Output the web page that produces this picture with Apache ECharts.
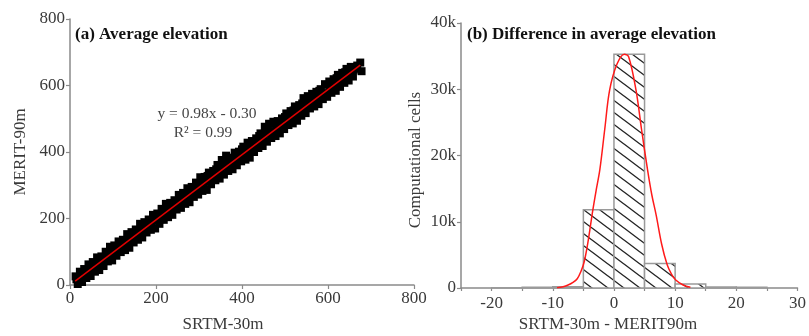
<!DOCTYPE html>
<html>
<head>
<meta charset="utf-8">
<script src="https://cdn.jsdelivr.net/npm/echarts@6/dist/echarts.min.js"></script>
<style>
html,body{margin:0;padding:0;background:#fff;}
#chart{width:809px;height:336px;}
</style>
</head>
<body>
<div id="chart"></div>
<script>
// ---------- Panel (a): SRTM-30m vs MERIT-90m ----------
const scatterPoints = [
[13,26],[18,3],[15,17],[23,40],[28,9],[25,20],[33,48],[38,21],[35,40],[43,62],[48,27],[45,42],
[53,69],[58,40],[55,55],[63,83],[68,45],[65,68],[73,86],[78,57],[75,67],[83,100],[88,71],[85,85],
[93,115],[98,74],[95,90],[103,119],[108,88],[105,110],[113,131],[118,99],[115,112],[123,136],[128,105],[125,117],
[133,153],[138,112],[135,136],[143,159],[148,128],[145,141],[153,167],[158,136],[155,158],[163,184],[168,143],[165,157],
[173,189],[178,158],[175,173],[183,197],[188,166],[185,174],[193,211],[198,170],[195,194],[203,215],[208,184],[205,206],
[213,229],[218,196],[215,208],[223,244],[228,204],[225,220],[233,247],[238,211],[235,224],[243,255],[248,227],[245,244],
[253,271],[258,232],[255,251],[263,277],[268,244],[265,256],[273,291],[278,249],[275,275],[283,295],[288,265],[285,274],
[293,308],[298,272],[295,291],[303,324],[308,283],[305,298],[313,325],[318,286],[315,313],[323,338],[328,303],[325,314],
[333,343],[338,315],[335,331],[343,361],[348,320],[345,336],[353,376],[358,332],[355,356],[363,389],[368,343],[365,357],
[373,383],[378,348],[375,364],[383,398],[388,360],[385,382],[393,401],[398,372],[395,381],[403,416],[408,377],[405,399],
[413,428],[418,383],[415,402],[423,433],[428,400],[425,422],[433,441],[438,412],[435,427],[443,456],[448,418],[445,434],
[453,476],[458,431],[455,455],[463,485],[468,442],[465,462],[473,491],[478,448],[475,462],[483,493],[488,456],[485,479],
[493,501],[498,469],[495,480],[503,516],[508,481],[505,497],[513,523],[518,486],[515,504],[523,537],[528,494],[525,520],
[533,541],[538,509],[535,520],[543,562],[548,517],[545,537],[553,568],[558,531],[555,543],[563,575],[568,537],[565,558],
[573,581],[578,544],[575,560],[583,589],[588,559],[585,575],[593,604],[598,566],[595,577],[603,612],[608,578],[605,597],
[613,619],[618,584],[615,602],[623,632],[628,596],[625,610],[633,638],[638,608],[635,627],[643,650],[648,615],[645,629],
[653,656],[658,627],[655,643],[663,652],[668,660],[675,669],[678,643],[650,645],
[20,14],[30,31],[40,30],[50,58],[60,52],[70,64],[80,82],[90,80],[100,104],[110,100],[120,126],[130,118],
[140,146],[150,139],[160,165],[170,160],[180,186],[190,178],[200,205],[210,198],[220,226],[230,219],[240,246],
[250,240],[260,266],[270,258],[280,286],[290,280],[300,306],[310,297],[320,328],[330,320],[340,348],[350,339],
[360,371],[370,360],[380,378],[390,376],[400,408],[410,400],[420,420],[430,418],[440,448],[450,440],[460,470],
[470,458],[480,482],[490,475],[500,505],[510,496],[520,525],[530,514],[540,546],[550,540],[560,562],[570,553],
[580,584],[590,576],[600,602],[610,594],[620,622],[630,615],[640,640],[650,632],[660,648]
];
const trendLine = [[12, 11.5], [675, 661.2]];
const xTicksA = [0, 200, 400, 600, 800];
const yTicksA = [0, 200, 400, 600, 800];

// ---------- Panel (b): histogram of differences ----------
const binStart = [-20, -15, -10, -5, 0, 5, 10, 15, 20];
const binEnd   = [-15, -10, -5, 0, 5, 10, 15, 20, 25];
const binCount = [50, 100, 200, 11800, 35300, 3700, 600, 150, 100];
const curveX = [-9.3, -8.3, -7.5, -6.7, -6, -5.4, -4.85, -4.2, -3.5, -2.9, -2.3, -1.5, -0.7, 0.5, 1.7, 2.4, 3.6, 4.5, 5.5, 6.2, 6.9, 7.8, 8.7, 9.4, 10.1, 11.3, 12.5];
const curveY = [50, 200, 450, 850, 1400, 2500, 4000, 7200, 11500, 14800, 17900, 24000, 29900, 33800, 35300, 34900, 29900, 24000, 17800, 14000, 11000, 6600, 3500, 2100, 1200, 450, 100];

const FONT = '"Liberation Serif","Times New Roman",serif';
const AX = '#8a8a8a';
const TXT = '#3a3a3a';

// hatch pattern
function makeHatch() {
  const c = document.createElement('canvas');
  c.width = 16; c.height = 12;
  const g = c.getContext('2d');
  g.fillStyle = '#fff'; g.fillRect(0, 0, 16, 12);
  g.strokeStyle = '#222'; g.lineWidth = 1.3;
  g.beginPath();
  g.moveTo(-16, -12); g.lineTo(32, 24);
  g.moveTo(-16, 0); g.lineTo(16, 24);
  g.moveTo(0, -12); g.lineTo(32, 12);
  g.stroke();
  return c;
}
const hatch = makeHatch();

const histData = binStart.map((s, i) => [s, binEnd[i], binCount[i]]);
const curveData = curveX.map((x, i) => [x, curveY[i]]);

const chart = echarts.init(document.getElementById('chart'), null, {renderer: 'canvas'});

const axisCommon = {
  axisLine: {show: true, onZero: false, lineStyle: {color: AX, width: 1.5}},
  axisTick: {show: true, inside: false, length: 4, lineStyle: {color: AX, width: 1.2}},
  splitLine: {show: false},
  axisLabel: {color: TXT, fontFamily: FONT, fontSize: 17, margin: 5}
};

const option = {
  animation: false,
  backgroundColor: '#fff',
  grid: [
    {left: 70, top: 19, width: 344, height: 266},
    {left: 461, top: 23, width: 343, height: 265}
  ],
  xAxis: [
    Object.assign({}, axisCommon, {type: 'value', gridIndex: 0, min: xTicksA[0], max: xTicksA[xTicksA.length - 1], interval: 200}),
    Object.assign({}, axisCommon, {type: 'value', gridIndex: 1, min: -25, max: 30, interval: 5,
      axisTick: {show: true, inside: false, length: 3, lineStyle: {color: AX, width: 1.2}},
      axisLabel: {color: TXT, fontFamily: FONT, fontSize: 17, margin: 7, showMinLabel: true, showMaxLabel: true,
        formatter: v => (Math.round(v) % 10 === 0 ? String(v) : '')}})
  ],
  yAxis: [
    Object.assign({}, axisCommon, {type: 'value', gridIndex: 0, min: yTicksA[0], max: yTicksA[yTicksA.length - 1], interval: 200}),
    Object.assign({}, axisCommon, {type: 'value', gridIndex: 1, min: 0, max: 40000, interval: 10000,
      axisLabel: {color: TXT, fontFamily: FONT, fontSize: 17, margin: 5,
        formatter: v => (v === 0 ? '0' : (v / 1000) + 'k')}})
  ],
  series: [
    {
      type: 'scatter', xAxisIndex: 0, yAxisIndex: 0,
      data: scatterPoints, symbol: 'rect', symbolSize: 8,
      itemStyle: {color: '#000', opacity: 1}, z: 2
    },
    {
      type: 'line', xAxisIndex: 0, yAxisIndex: 0,
      data: trendLine, symbol: 'none',
      lineStyle: {color: '#e00000', width: 1.5}, z: 3
    },
    {
      type: 'custom', xAxisIndex: 1, yAxisIndex: 1,
      data: histData,
      renderItem: function (params, api) {
        const p0 = api.coord([api.value(0), 0]);
        const p1 = api.coord([api.value(1), api.value(2)]);
        return {
          type: 'rect',
          shape: {x: p0[0], y: p1[1], width: p1[0] - p0[0], height: p0[1] - p1[1]},
          style: {fill: {image: hatch, repeat: 'repeat'}, stroke: '#9a9a9a', lineWidth: 1.5}
        };
      },
      z: 2
    },
    {
      type: 'line', xAxisIndex: 1, yAxisIndex: 1,
      data: curveData, symbol: 'none', smooth: 0.35,
      lineStyle: {color: '#ff1a1a', width: 1.5}, z: 3
    }
  ],
  graphic: [
    {type: 'text', z: 10, style: {x: 75, y: 35, text: '(a) Average elevation', font: 'bold 17px ' + FONT, fill: '#111', textVerticalAlign: 'middle'}},
    {type: 'text', z: 10, style: {x: 207, y: 114, text: 'y = 0.98x - 0.30', font: '15.5px ' + FONT, fill: '#444', textAlign: 'center', textVerticalAlign: 'middle'}},
    {type: 'text', z: 10, style: {x: 203, y: 133, text: 'R² = 0.99', font: '15.5px ' + FONT, fill: '#444', textAlign: 'center', textVerticalAlign: 'middle'}},
    {type: 'text', z: 10, style: {x: 223, y: 325, text: 'SRTM-30m', font: '17px ' + FONT, fill: TXT, textAlign: 'center', textVerticalAlign: 'middle'}},
    {type: 'text', z: 10, x: 21, y: 152, rotation: Math.PI / 2, style: {x: 0, y: 0, text: 'MERIT-90m', font: '17px ' + FONT, fill: TXT, textAlign: 'center', textVerticalAlign: 'middle'}},
    {type: 'text', z: 10, style: {x: 467, y: 35, text: '(b) Difference in average elevation', font: 'bold 17px ' + FONT, fill: '#111', textVerticalAlign: 'middle'}},
    {type: 'text', z: 10, style: {x: 608, y: 325, text: 'SRTM-30m - MERIT90m', font: '17px ' + FONT, fill: TXT, textAlign: 'center', textVerticalAlign: 'middle'}},
    {type: 'text', z: 10, x: 416, y: 160, rotation: Math.PI / 2, style: {x: 0, y: 0, text: 'Computational cells', font: '17px ' + FONT, fill: TXT, textAlign: 'center', textVerticalAlign: 'middle'}}
  ]
};
chart.setOption(option);
</script>
</body>
</html>
